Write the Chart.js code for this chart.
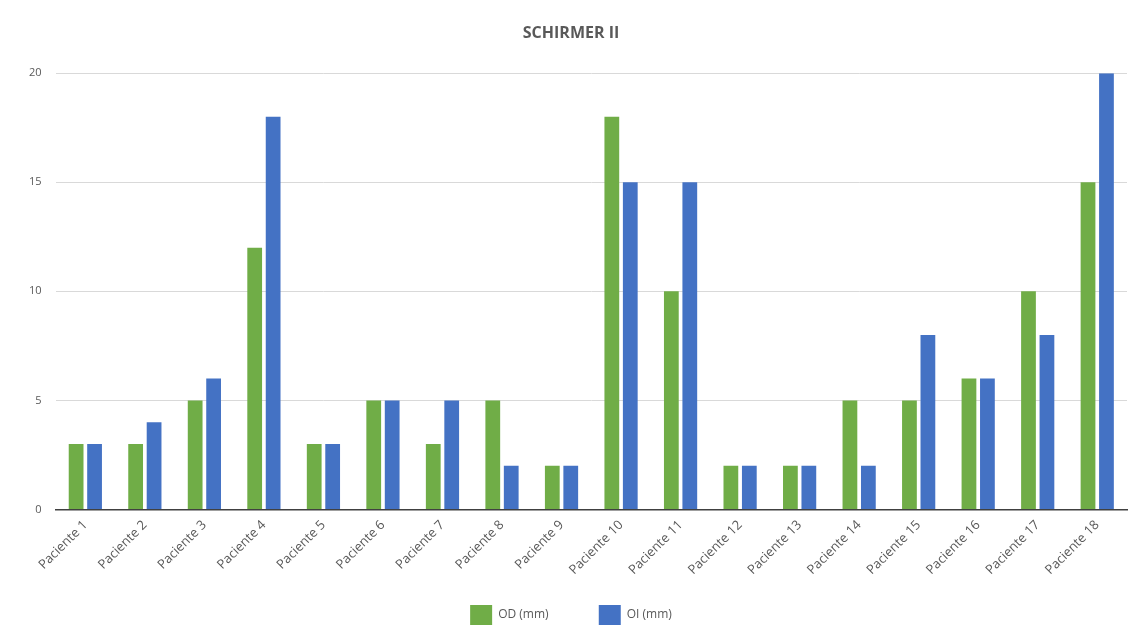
<!DOCTYPE html>
<html>
<head>
<meta charset="utf-8">
<script src="https://cdn.jsdelivr.net/npm/chart.js@4"></script>
<style>
  html, body { margin: 0; padding: 0; background: #fff; }
  #wrap { width: 1133px; height: 626px; }
</style>
</head>
<body>
<div id="wrap"><canvas id="grafico1"></canvas></div>
<script>
const pacientes = ["Paciente 1", "Paciente 2", "Paciente 3", "Paciente 4", "Paciente 5", "Paciente 6",
  "Paciente 7", "Paciente 8", "Paciente 9", "Paciente 10", "Paciente 11", "Paciente 12",
  "Paciente 13", "Paciente 14", "Paciente 15", "Paciente 16", "Paciente 17", "Paciente 18"];
const od = [3, 3, 5, 12, 3, 5, 3, 5, 2, 18, 10, 2, 2, 5, 5, 6, 10, 15];
const oi = [3, 4, 6, 18, 3, 5, 5, 2, 2, 15, 15, 2, 2, 2, 8, 6, 8, 20];
const yTicks = [0, 5, 10, 15, 20];

const ctx = document.getElementById("grafico1").getContext("2d");
new Chart(ctx, {
  type: "bar",
  data: {
    labels: pacientes,
    datasets: [
      {
        label: "OD (mm)",
        data: od,
        backgroundColor: "#70ad47",
        barPercentage: 0.8,
        categoryPercentage: 0.62,
      },
      {
        label: "OI (mm)",
        data: oi,
        backgroundColor: "#4472c4",
        barPercentage: 0.8,
        categoryPercentage: 0.62,
      },
    ],
  },
  options: {
    responsive: true,
    maintainAspectRatio: false,
    animation: false,
    layout: { padding: { left: 15, right: 6, top: 14, bottom: -9 } },
    plugins: {
      title: {
        display: true,
        text: "SCHIRMER II",
        color: "#595959",
        font: { family: "Open Sans", size: 16, weight: "bold" },
        padding: { top: 10, bottom: 30 },
      },
      legend: {
        position: "bottom",
        labels: {
          color: "#595959",
          font: { family: "Open Sans", size: 12 },
          boxWidth: 22,
          boxHeight: 20,
          padding: 19,
          // espacio extra entre las dos entradas
          generateLabels: (chart) => {
            const items = Chart.defaults.plugins.legend.labels.generateLabels(chart);
            items[0].text = items[0].text + "\u00a0".repeat(10);
            return items;
          },
        },
      },
      tooltip: { enabled: false },
    },
    scales: {
      x: {
        grid: { display: false, drawTicks: false },
        border: { color: "#404040", width: 1.5 },
        ticks: {
          color: "#595959",
          font: { family: "Open Sans", size: 13 },
          maxRotation: 45,
          minRotation: 45,
          padding: 8,
        },
      },
      y: {
        min: 0,
        max: 20,
        afterBuildTicks: (axis) => { axis.ticks = yTicks.map((v) => ({ value: v })); },
        grid: { color: "#d9d9d9", drawTicks: false },
        border: { display: false },
        ticks: {
          color: "#595959",
          font: { family: "Open Sans", size: 11 },
          padding: 14,
        },
      },
    },
  },
});
</script>
</body>
</html>
